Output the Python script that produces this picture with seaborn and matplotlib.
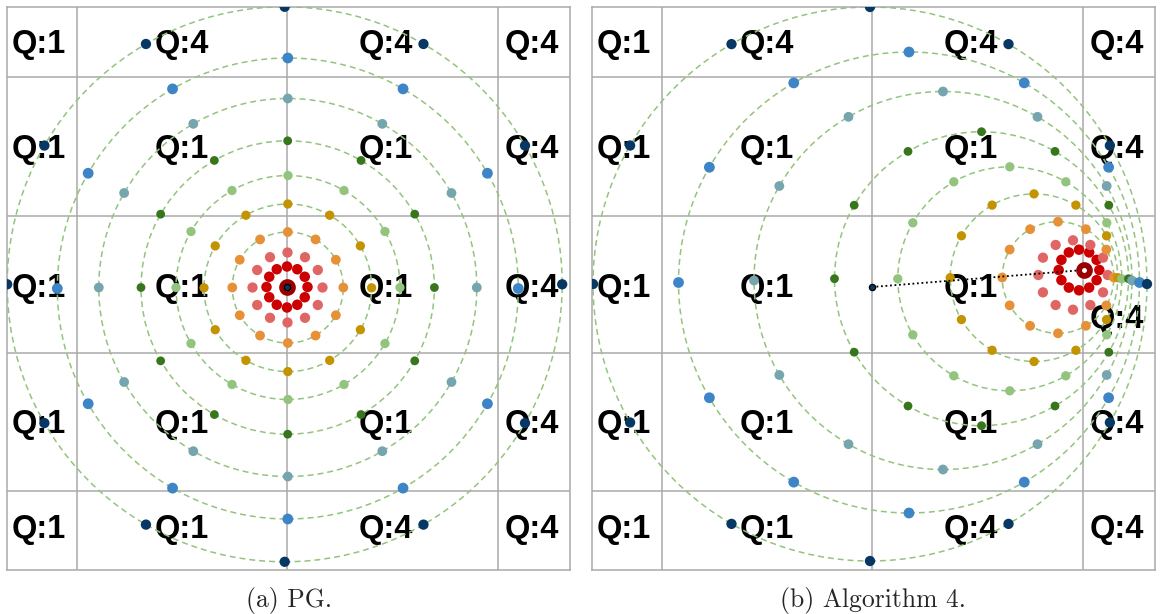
import numpy as np
import pandas as pd
import matplotlib
matplotlib.use("Agg")
import matplotlib.pyplot as plt
import matplotlib.transforms as mtransforms
from matplotlib.patches import Circle
import seaborn as sns

sns.set_theme(style="white")
plt.rcParams['font.family'] = ['Liberation Sans', 'DejaVu Sans']

# ---------------- data ----------------
ring_names = ["red", "pink", "orange", "gold", "light green", "dark green", "teal", "blue", "navy"]
point_angles_deg = [0, 30, 60, 90, 120, 150, 180, 210, 240, 270, 300, 330]

# panel (a) PG: ring centres and radii
ring_radius_a = [20.5, 35.0, 55.5, 83.8, 112.0, 146.7, 189.0, 230.5, 277.5]
ring_cx_a = [0.0, 0.5, 0.8, 0.8, 1.0, 0.7, 0.8, 0.8, -2.3]
ring_cy_a = [0.0, -0.5, -0.5, -0.8, -0.5, -0.5, -0.5, -1.5, 2.7]
start_a = (0.0, 0.0)
target_a = (0.0, 0.0)

# panel (b) Algorithm 4
ring_radius_b = [20.3, 34.7, 55.8, 83.8, 112.0, 147.0, 189.0, 230.5, 277.0]
ring_cx_b = [207.0, 201.0, 186.0, 162.0, 137.8, 109.5, 71.0, 37.0, -2.0]
ring_cy_b = [17.0, 12.0, 9.5, 9.3, 8.2, 8.3, 6.5, 4.5, 3.0]
start_b = (0.0, 0.0)
target_b = (211.5, 17.0)

# grid world
grid_x = [-209.7, 0.0, 211.3]
grid_y = [209.7, 71.0, -65.5, -203.7]
label_col_x = [-248.5, -105.0, 99.0, 245.0]
label_row_y = [245.0, 140.0, 1.0, -135.0, -240.0]
q_labels = [["Q:1", "Q:4", "Q:4", "Q:4"],
            ["Q:1", "Q:1", "Q:1", "Q:4"],
            ["Q:1", "Q:1", "Q:1", "Q:4"],
            ["Q:1", "Q:1", "Q:1", "Q:4"],
            ["Q:1", "Q:1", "Q:4", "Q:4"]]
label_override_b = {(2, 3): (245.0, -30.0)}

captions = ["(a) PG.", "(b) Algorithm 4."]

# ---------------- style ----------------
ring_colors = ["#cc0000", "#e06666", "#e69138", "#c49300", "#93c47d",
               "#38761d", "#76a5af", "#3d85c6", "#073763"]
ring_dot_px = [10.5, 10.3, 9.8, 9.3, 9.3, 8.8, 9.8, 10.8, 10.3]
ring_sizes = [(d * 0.72) ** 2 for d in ring_dot_px]
dashed_rings = ["orange", "gold", "light green", "dark green", "teal", "blue", "navy"]
grid_color = "#a9a9a9"
circle_color = "#93c47d"
navy = "#073763"
maroon = "#990000"

W, H = 1160, 614
fig = plt.figure(figsize=(W / 100, H / 100), dpi=100)
ax_a = fig.add_axes([7.3 / W, (H - 569.5) / H, 562.7 / W, 562.2 / H])
ax_b = fig.add_axes([592.3 / W, (H - 569.5) / H, 562.7 / W, 562.2 / H])


def draw_panel(ax, radii, cxs, cys, start, target, overrides):
    rows = []
    for name, r, cx, cy in zip(ring_names, radii, cxs, cys):
        for ang in point_angles_deg:
            t = np.deg2rad(ang)
            rows.append(dict(ring=name, x=cx + r * np.cos(t), y=cy + r * np.sin(t)))
    df = pd.DataFrame(rows)

    for gx in grid_x:
        ax.axvline(gx, color=grid_color, lw=1.1, zorder=0)
    for gy in grid_y:
        ax.axhline(gy, color=grid_color, lw=1.1, zorder=0)

    off = mtransforms.offset_copy(ax.transData, fig=fig, x=0, y=-8.2, units='points')
    for i, row in enumerate(q_labels):
        for j, lab in enumerate(row):
            x, y = overrides.get((i, j), (label_col_x[j], label_row_y[i]))
            ax.text(x, y, lab, transform=off, ha='center', va='baseline',
                    fontsize=23.5, fontweight='bold', color='black', zorder=1)

    for name, r, cx, cy in zip(ring_names, radii, cxs, cys):
        if name in dashed_rings:
            ax.add_patch(Circle((cx, cy), r, fill=False, ec=circle_color, lw=1.1,
                                ls=(0, (3.9, 2.6)), zorder=2))

    sns.scatterplot(data=df, x='x', y='y', hue='ring',
                    palette=dict(zip(ring_names, ring_colors)),
                    size='ring', sizes=dict(zip(ring_names, ring_sizes)),
                    linewidth=0, legend=False, ax=ax, zorder=3)

    ax.plot([start[0], target[0]], [start[1], target[1]], color='black',
            ls=(0, (1, 1.5)), lw=1.3, zorder=4)
    ax.plot([target[0]], [target[1]], marker='o', ms=7.8, mew=4.2, mfc='white',
            mec=maroon, ls='none', zorder=5)
    ax.plot([start[0]], [start[1]], marker='o', ms=4.5, mew=0.9, mfc=navy,
            mec='black', ls='none', zorder=6)

    ax.set_xlim(-279.7, 283.0)
    ax.set_ylim(-282.5, 279.7)
    ax.set_xticks([])
    ax.set_yticks([])
    ax.set_xlabel('')
    ax.set_ylabel('')
    for s in ax.spines.values():
        s.set_color(grid_color)
        s.set_linewidth(1.1)
        s.set_visible(True)


draw_panel(ax_a, ring_radius_a, ring_cx_a, ring_cy_a, start_a, target_a, {})
draw_panel(ax_b, ring_radius_b, ring_cx_b, ring_cy_b, start_b, target_b, label_override_b)

fig.text(289 / W, (H - 607.5) / H, captions[0], ha='center', va='baseline',
         family='cmr10', fontsize=18.5)
fig.text(873 / W, (H - 607.5) / H, captions[1], ha='center', va='baseline',
         family='cmr10', fontsize=18.5)

fig.savefig("out.png", dpi=100)
